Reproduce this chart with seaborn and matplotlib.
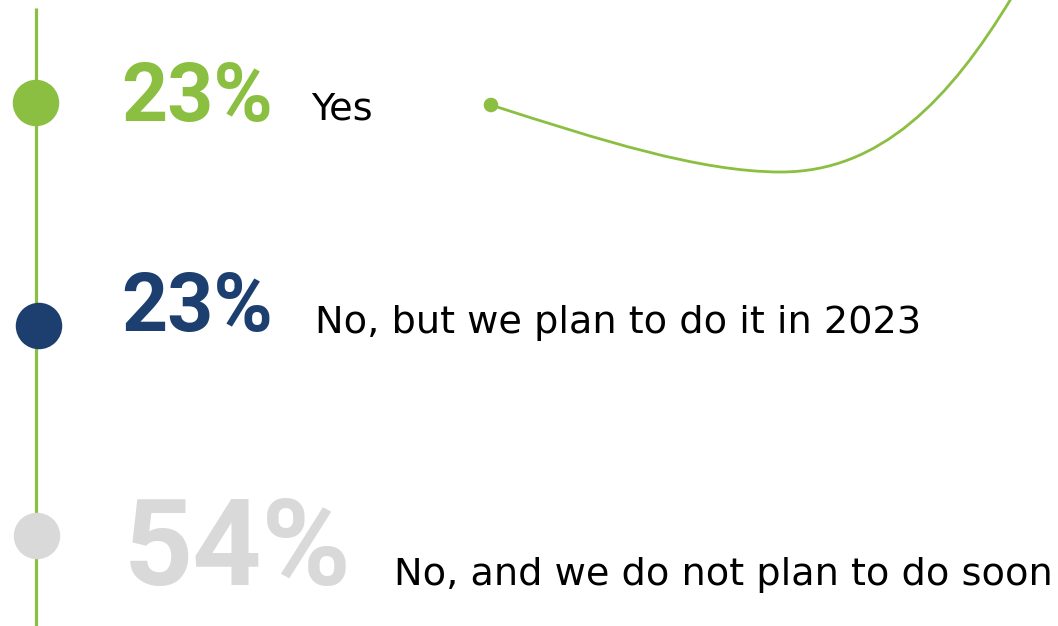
import matplotlib
matplotlib.use("Agg")
import matplotlib.pyplot as plt
from matplotlib.path import Path
from matplotlib.patches import PathPatch
import seaborn as sns
import pandas as pd

# ---- data ----
categories = ["Yes", "No, but we plan to do it in 2023", "No, and we do not plan to do soon"]
percentages = [23, 23, 54]
pct_labels = ["23%", "23%", "54%"]
colors = ["#8BBF41", "#1C3F70", "#D9D9D9"]

# ---- layout (pixels, figure is 1058x626) ----
W, H = 1058, 626
row_y = [103, 326, 536]
dot_x = [36, 39, 37]
pct_x = [121, 121, 124]
pct_base = [121, 331, 585]
pct_size = [58, 58, 87]
lab_x = [311, 315, 394]
lab_base = [120, 333, 585]

sns.set_theme(style="white")
plt.rcParams["font.family"] = ["DejaVu Sans"]

fig = plt.figure(figsize=(W / 100, H / 100), dpi=100)
ax = fig.add_axes([0, 0, 1, 1])
ax.set_xlim(0, W)
ax.set_ylim(H, 0)
ax.axis("off")

green = colors[0]

# timeline
ax.plot([36, 36], [8, H + 5], color=green, lw=2.3, solid_capstyle="butt", zorder=1)

df = pd.DataFrame({"x": dot_x, "y": row_y, "cat": categories, "pct": percentages})
sns.scatterplot(data=df, x="x", y="y", hue="cat", palette=colors, s=1120,
                edgecolor="none", legend=False, ax=ax, zorder=3)

for i in range(len(categories)):
    ax.text(pct_x[i], pct_base[i], pct_labels[i], color=colors[i],
            fontsize=pct_size[i], fontweight="bold", va="baseline", ha="left",
            family=["Roboto", "DejaVu Sans"])
    ax.text(lab_x[i], lab_base[i], categories[i], color="black",
            fontsize=27.5, va="baseline", ha="left", family=["DejaVu Sans"])

# decorative curve
verts = [(491, 105), (600, 140), (700, 172), (781, 172),
         (880, 172), (950, 100), (1012, -3)]
codes = [Path.MOVETO, Path.CURVE4, Path.CURVE4, Path.CURVE4,
         Path.CURVE4, Path.CURVE4, Path.CURVE4]
ax.add_patch(PathPatch(Path(verts, codes), facecolor="none", edgecolor=green,
                       lw=2.0, zorder=2))
ax.scatter([491], [105], s=110, color=green, edgecolor="none", zorder=3)

fig.savefig("out.png", dpi=100, facecolor="white")
